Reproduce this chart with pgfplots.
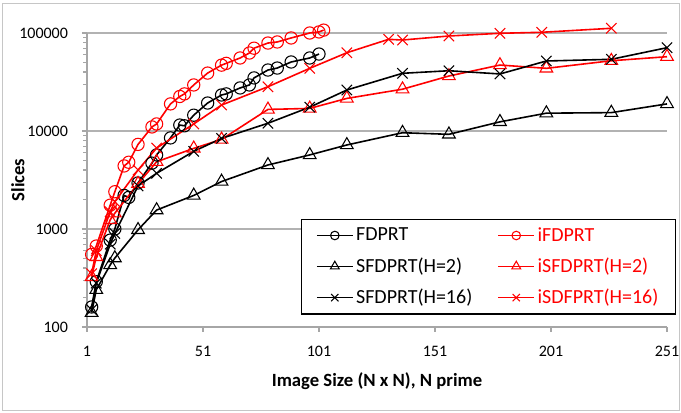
\documentclass[border=0pt]{standalone}
\usepackage{pgfplots}
\pgfplotsset{compat=1.18}
\usepackage{pgfplotstable}
\usepackage{fontspec}
\setmainfont{Carlito}

\pgfplotstableread{
N v
3 160
5 290
11 770
13 1000
17 2200
19 2100
23 2950
29 4700
31 5700
37 8500
41 11500
43 11300
47 14500
53 19300
59 23300
61 23900
67 27500
71 29500
73 34800
79 41900
83 43900
89 50600
97 55600
101 61000
}\fdprt

\pgfplotstableread{
N v
3 550
5 670
11 1750
13 2400
17 4400
19 4800
23 7300
29 11000
31 11800
37 18900
41 22500
43 23900
47 29500
53 39000
59 47000
61 49000
67 55600
71 62500
73 70000
79 79000
83 81000
89 89000
97 100000
101 102500
103 107000
}\ifdprt

\pgfplotstableread{
N v
3 140
5 240
11 430
13 505
23 980
31 1560
47 2200
59 3050
79 4500
97 5700
113 7200
137 9600
157 9250
179 12400
199 15200
227 15400
251 18900
}\sfdprtA

\pgfplotstableread{
N v
3 325
5 520
11 1240
13 1450
23 2900
31 4850
47 6650
59 8200
79 16600
97 17000
113 21500
137 26700
157 36400
179 47100
199 43600
227 52100
251 57300
}\isfdprtA

\pgfplotstableread{
N v
3 150
5 280
11 700
13 900
23 2750
31 3700
47 6200
59 8400
79 12000
97 17500
113 26200
137 38800
157 41200
179 38200
199 51800
227 53900
251 70800
}\sfdprtB

\pgfplotstableread{
N v
3 350
5 600
11 1500
13 1900
23 4000
31 6700
47 11800
59 18400
79 28300
97 43600
113 62900
131 86200
137 84800
157 93200
179 99300
197 101700
227 111700
}\isfdprtB

\begin{document}
\begin{tikzpicture}[font=\fontsize{12pt}{14pt}\selectfont]
\begin{axis}[
  scale only axis, width=435pt, height=220.5pt,
  at={(0,0)}, anchor=south west,
  ymode=log, xmin=1, xmax=251, ymin=100, ymax=100000,
  xtick={1,51,101,151,201,251},
  ytick={100,1000,10000,100000},
  yticklabels={100,1000,10000,100000},
  minor ytick={}, 
  /pgf/number format/assume math mode=true,
  axis x line*=bottom, axis y line*=left,
  axis line style={gray!70, line width=0.8pt},
  tick align=outside, major tick length=3.75pt,
  tick style={gray!70, line width=0.8pt},
  ymajorgrids, grid style={gray!60, line width=1pt},
  clip=false,
  xticklabel style={font=\fontsize{12pt}{14pt}\selectfont, anchor=center, yshift=-14.5pt},
  yticklabel style={font=\fontsize{12pt}{14pt}\selectfont, anchor=east, xshift=-7pt},
  xlabel={\textbf{Image Size (N x N), N prime}},
  ylabel={\textbf{Slices}},
  every axis x label/.style={at={(axis description cs:0.5,-0.1837)},anchor=center,font=\fontsize{14pt}{16pt}\selectfont},
  every axis y label/.style={at={(axis description cs:-0.119,0.5)},anchor=center,rotate=90,font=\fontsize{14pt}{16pt}\selectfont},
  legend columns=2,
  legend cell align=left,
  legend style={at={(rel axis cs:0.369,0.367)}, anchor=north west, draw=black, line width=0.8pt,
    inner xsep=11pt, inner ysep=4pt, row sep=7pt,
    /tikz/every even column/.append style={column sep=17pt},
    font=\fontsize{15pt}{17pt}\selectfont},
  legend image code/.code={\draw[mark repeat=2,mark phase=2,#1,line width=0.9pt,/tikz/every mark/.append style={scale=0.7}] plot coordinates {(0pt,0pt) (13.5pt,0pt) (27pt,0pt)};},
  every axis plot/.append style={line width=1.2pt},
]
\addplot[black, mark=o, mark size=4.6pt, mark options={solid, line width=0.8pt}] table[x=N,y=v] {\fdprt};
\addlegendentry{FDPRT}
\addplot[red, mark=o, mark size=4.6pt, mark options={solid, line width=0.8pt}] table[x=N,y=v] {\ifdprt};
\addlegendentry{\textcolor{red}{iFDPRT}}
\addplot[black, mark=triangle, mark size=5.5pt, mark options={solid, line width=0.8pt}] table[x=N,y=v] {\sfdprtA};
\addlegendentry{SFDPRT(H=2)}
\addplot[red, mark=triangle, mark size=5.5pt, mark options={solid, line width=0.8pt}] table[x=N,y=v] {\isfdprtA};
\addlegendentry{\textcolor{red}{iSFDPRT(H=2)}}
\addplot[black, mark=x, mark size=5.5pt, mark options={solid, line width=0.8pt}] table[x=N,y=v] {\sfdprtB};
\addlegendentry{SFDPRT(H=16)}
\addplot[red, mark=x, mark size=5.5pt, mark options={solid, line width=0.8pt}] table[x=N,y=v] {\isfdprtB};
\addlegendentry{\textcolor{red}{iSDFPRT(H=16)}}
\end{axis}
\draw[gray!45, line width=0.75pt] (-63pt,-62.5pt) rectangle (444pt,242.25pt);
\pgfresetboundingbox
\path[use as bounding box] (-65.25pt,-64.5pt) rectangle (445.5pt,245.25pt);
\end{tikzpicture}
\end{document}
